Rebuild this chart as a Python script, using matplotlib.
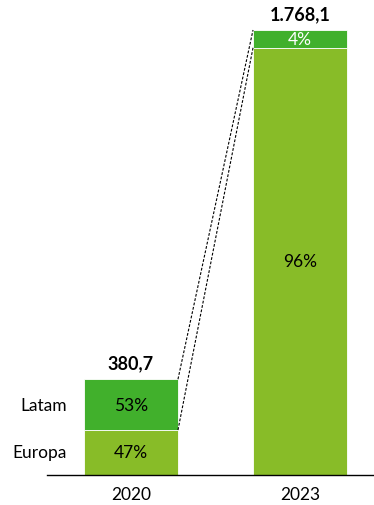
import matplotlib.pyplot as plt

# Datos por año (millones) y reparto por región
anios = ["2020", "2023"]
totales = [380.7, 1768.1]
etiquetas_totales = ["380,7", "1.768,1"]
europa_pct = [47, 96]
latam_pct = [53, 4]
regiones = ["Europa", "Latam"]

verde_claro = "#88BC28"
verde_oscuro = "#41B02C"

plt.rcParams["font.family"] = ["Lato", "DejaVu Sans"]

fig = plt.figure(figsize=(3.74, 5.06), dpi=100)
ax = fig.add_axes([47 / 374, 30 / 506, 327 / 374, 476 / 506])

x = list(range(len(anios)))
ancho = 0.556
europa = [t * p / 100 for t, p in zip(totales, europa_pct)]
latam = [t * p / 100 for t, p in zip(totales, latam_pct)]

ax.bar(x, europa, width=ancho, color=verde_claro, edgecolor="white", linewidth=0.6)
ax.bar(x, latam, width=ancho, bottom=europa, color=verde_oscuro, edgecolor="white", linewidth=0.6)

# Porcentajes dentro de cada segmento
for i in x:
    ax.text(i, europa[i] / 2, f"{europa_pct[i]}%", ha="center", va="center", fontsize=12.5, color="black")
    color_latam = "white" if latam_pct[i] < 10 else "black"
    ax.text(i, europa[i] + latam[i] / 2, f"{latam_pct[i]}%", ha="center", va="center",
            fontsize=12.5, color=color_latam)
    ax.text(i, totales[i] + 30, etiquetas_totales[i], ha="center", va="bottom",
            fontsize=13, fontweight="bold")

# Nombres de región a la izquierda de la primera barra
ax.text(-0.38, europa[0] / 2, regiones[0], ha="right", va="center", fontsize=12.5)
ax.text(-0.38, europa[0] + latam[0] / 2, regiones[1], ha="right", va="center", fontsize=12.5)

# Líneas discontinuas que conectan ambas barras
d = ancho / 2
ax.plot([x[0] + d, x[1] - d], [totales[0], totales[1]], ls="--", color="black", lw=0.8, dashes=(2.5, 1.5))
ax.plot([x[0] + d, x[1] - d], [europa[0], europa[1]], ls="--", color="black", lw=0.8, dashes=(2.5, 1.5))

ax.set_xlim(-(131 - 47) / 169, 1 + (374 - 300) / 169)
ax.set_ylim(0, totales[1] * 476 / 445)
ax.set_xticks(x)
ax.set_xticklabels(anios, fontsize=12.5)
ax.tick_params(axis="x", length=0, pad=8)
ax.set_yticks([])
for lado in ["top", "right", "left"]:
    ax.spines[lado].set_visible(False)
ax.spines["bottom"].set_linewidth(1.0)

fig.savefig("out.png", dpi=100)
